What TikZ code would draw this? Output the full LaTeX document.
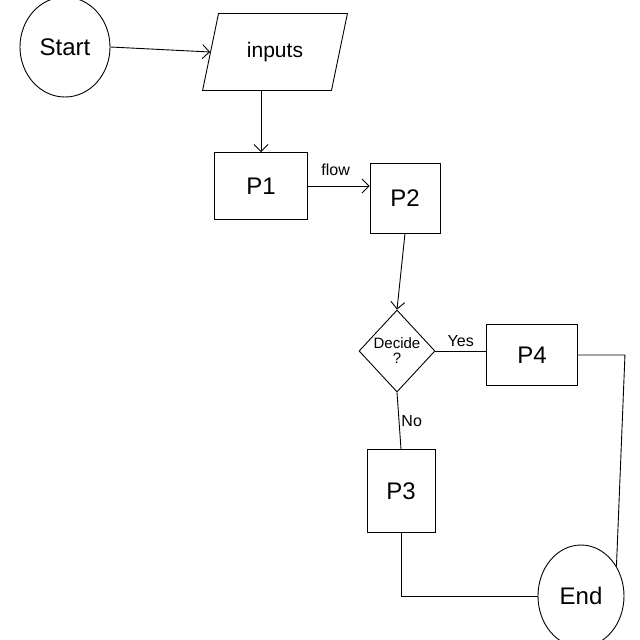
\documentclass[tikz,border=0pt]{standalone}
\usepackage{fontspec}
\setmainfont{Liberation Sans}
\usetikzlibrary{shapes.geometric,arrows.meta}
\begin{document}
\begin{tikzpicture}[x=1pt,y=-1pt, line width=0.9pt,
 every node/.style={font=\fontsize{22}{24}\selectfont},
 term/.style={draw, ellipse, inner sep=0pt, font=\fontsize{24}{26}\selectfont},
 io/.style={draw, trapezium, trapezium left angle=68, trapezium right angle=112, trapezium stretches=true, minimum width=145, minimum height=77, inner sep=0pt, font=\fontsize{21}{23}\selectfont},
 proc/.style={draw, rectangle, inner sep=0pt, font=\fontsize{24}{26}\selectfont},
 dec/.style={draw, diamond, inner sep=0pt, minimum width=76, minimum height=82, align=center, font=\fontsize{15}{15}\selectfont},
 lbl/.style={font=\fontsize{16}{18}\selectfont, inner sep=2pt},
 arr/.style={-{Straight Barb[length=7pt,width=14pt]}}
]
\fill[white] (0,0) rectangle (640,640);
\useasboundingbox (0,0) rectangle (640,640);
\node[term, minimum width=90, minimum height=100] (start) at (65,47) {Start};
\node[io] (inputs) at (275,52) {inputs};
\node[proc, minimum width=93, minimum height=67] (p1) at (261,186) {P1};
\node[proc, minimum width=70, minimum height=70] (p2) at (405,198) {P2};
\node[dec] (decide) at (397,351) {Decide\\?};
\node[proc, minimum width=91, minimum height=61] (p4) at (532,355) {P4};
\node[proc, minimum width=68, minimum height=83] (p3) at (401,491) {P3};
\node[term, minimum width=86, minimum height=102] (end) at (581,596) {End};
\draw[arr] (start.east) -- (inputs.west);
\draw[arr] (inputs.south -| p1.north) -- (p1.north);
\draw[arr] (p1.east) -- node[lbl, above=8pt, pos=0.45]{flow} (p2.west |- p1.east);
\draw[arr] (p2.south) -- (decide.north);
\draw (decide.east) -- node[lbl, above=2pt]{Yes} (p4.west |- decide.east);
\draw (decide.south) -- node[lbl, right]{No} (p3.north);
\draw (p4.east) -- ++(47,0) -- (end.40);
\draw (p3.south) |- (end.west);
\end{tikzpicture}
\end{document}
